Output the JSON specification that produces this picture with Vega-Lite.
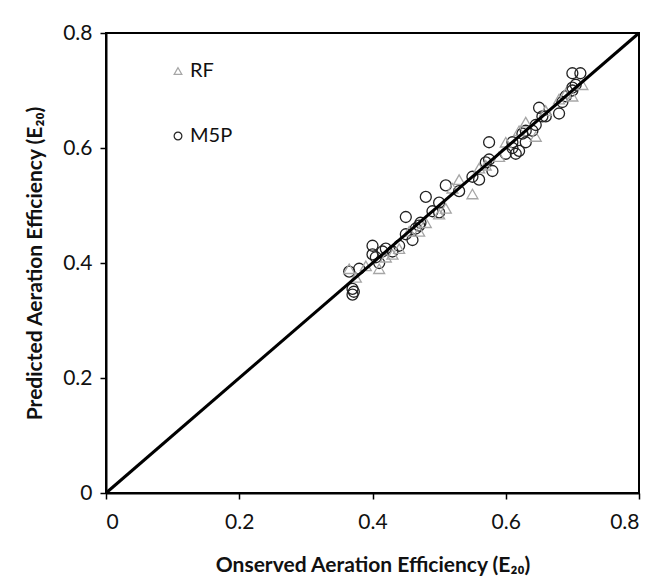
{
  "$schema": "https://vega.github.io/schema/vega-lite/v6.json",
  "width": 533,
  "height": 460,
  "autosize": {"type": "none"},
  "padding": {"left": 106, "top": 33, "right": 24, "bottom": 89},
  "background": "white",
  "config": {
    "view": {"stroke": "black", "strokeWidth": 2},
    "font": "Lato",
    "axis": {
      "grid": false,
      "domainColor": "black",
      "domainWidth": 2,
      "tickColor": "black",
      "tickWidth": 1.5,
      "tickSize": 6,
      "labelFont": "Lato",
      "labelFontSize": 21,
      "labelColor": "#111",
      "titleFont": "Lato",
      "titleFontSize": 21,
      "titleFontWeight": "bold",
      "titleColor": "#111"
    }
  },
  "layer": [
    {
      "data": {
        "values": [
          {"obs": 0.365, "pred": 0.385, "model": "M5P"},
          {"obs": 0.37, "pred": 0.355, "model": "M5P"},
          {"obs": 0.37, "pred": 0.345, "model": "M5P"},
          {"obs": 0.372, "pred": 0.35, "model": "M5P"},
          {"obs": 0.38, "pred": 0.39, "model": "M5P"},
          {"obs": 0.40, "pred": 0.415, "model": "M5P"},
          {"obs": 0.40, "pred": 0.43, "model": "M5P"},
          {"obs": 0.405, "pred": 0.41, "model": "M5P"},
          {"obs": 0.41, "pred": 0.40, "model": "M5P"},
          {"obs": 0.415, "pred": 0.42, "model": "M5P"},
          {"obs": 0.42, "pred": 0.425, "model": "M5P"},
          {"obs": 0.43, "pred": 0.42, "model": "M5P"},
          {"obs": 0.44, "pred": 0.43, "model": "M5P"},
          {"obs": 0.45, "pred": 0.45, "model": "M5P"},
          {"obs": 0.45, "pred": 0.48, "model": "M5P"},
          {"obs": 0.46, "pred": 0.44, "model": "M5P"},
          {"obs": 0.465, "pred": 0.46, "model": "M5P"},
          {"obs": 0.47, "pred": 0.465, "model": "M5P"},
          {"obs": 0.472, "pred": 0.47, "model": "M5P"},
          {"obs": 0.48, "pred": 0.515, "model": "M5P"},
          {"obs": 0.49, "pred": 0.49, "model": "M5P"},
          {"obs": 0.50, "pred": 0.488, "model": "M5P"},
          {"obs": 0.50, "pred": 0.505, "model": "M5P"},
          {"obs": 0.51, "pred": 0.535, "model": "M5P"},
          {"obs": 0.53, "pred": 0.525, "model": "M5P"},
          {"obs": 0.55, "pred": 0.55, "model": "M5P"},
          {"obs": 0.56, "pred": 0.545, "model": "M5P"},
          {"obs": 0.57, "pred": 0.575, "model": "M5P"},
          {"obs": 0.575, "pred": 0.58, "model": "M5P"},
          {"obs": 0.575, "pred": 0.61, "model": "M5P"},
          {"obs": 0.58, "pred": 0.56, "model": "M5P"},
          {"obs": 0.60, "pred": 0.59, "model": "M5P"},
          {"obs": 0.61, "pred": 0.61, "model": "M5P"},
          {"obs": 0.61, "pred": 0.60, "model": "M5P"},
          {"obs": 0.615, "pred": 0.59, "model": "M5P"},
          {"obs": 0.62, "pred": 0.595, "model": "M5P"},
          {"obs": 0.625, "pred": 0.625, "model": "M5P"},
          {"obs": 0.63, "pred": 0.63, "model": "M5P"},
          {"obs": 0.63, "pred": 0.61, "model": "M5P"},
          {"obs": 0.64, "pred": 0.63, "model": "M5P"},
          {"obs": 0.645, "pred": 0.64, "model": "M5P"},
          {"obs": 0.65, "pred": 0.67, "model": "M5P"},
          {"obs": 0.655, "pred": 0.655, "model": "M5P"},
          {"obs": 0.66, "pred": 0.655, "model": "M5P"},
          {"obs": 0.68, "pred": 0.66, "model": "M5P"},
          {"obs": 0.685, "pred": 0.68, "model": "M5P"},
          {"obs": 0.69, "pred": 0.69, "model": "M5P"},
          {"obs": 0.70, "pred": 0.73, "model": "M5P"},
          {"obs": 0.70, "pred": 0.70, "model": "M5P"},
          {"obs": 0.705, "pred": 0.71, "model": "M5P"},
          {"obs": 0.712, "pred": 0.73, "model": "M5P"},
          {"obs": 0.70, "pred": 0.705, "model": "M5P"},
          {"obs": 0.365, "pred": 0.39, "model": "RF"},
          {"obs": 0.375, "pred": 0.375, "model": "RF"},
          {"obs": 0.39, "pred": 0.395, "model": "RF"},
          {"obs": 0.41, "pred": 0.39, "model": "RF"},
          {"obs": 0.42, "pred": 0.41, "model": "RF"},
          {"obs": 0.43, "pred": 0.415, "model": "RF"},
          {"obs": 0.44, "pred": 0.425, "model": "RF"},
          {"obs": 0.455, "pred": 0.455, "model": "RF"},
          {"obs": 0.47, "pred": 0.455, "model": "RF"},
          {"obs": 0.48, "pred": 0.47, "model": "RF"},
          {"obs": 0.50, "pred": 0.485, "model": "RF"},
          {"obs": 0.51, "pred": 0.495, "model": "RF"},
          {"obs": 0.52, "pred": 0.53, "model": "RF"},
          {"obs": 0.53, "pred": 0.545, "model": "RF"},
          {"obs": 0.55, "pred": 0.52, "model": "RF"},
          {"obs": 0.56, "pred": 0.565, "model": "RF"},
          {"obs": 0.57, "pred": 0.57, "model": "RF"},
          {"obs": 0.59, "pred": 0.585, "model": "RF"},
          {"obs": 0.60, "pred": 0.61, "model": "RF"},
          {"obs": 0.62, "pred": 0.63, "model": "RF"},
          {"obs": 0.63, "pred": 0.645, "model": "RF"},
          {"obs": 0.645, "pred": 0.62, "model": "RF"},
          {"obs": 0.66, "pred": 0.665, "model": "RF"},
          {"obs": 0.68, "pred": 0.685, "model": "RF"},
          {"obs": 0.69, "pred": 0.695, "model": "RF"},
          {"obs": 0.70, "pred": 0.69, "model": "RF"},
          {"obs": 0.715, "pred": 0.71, "model": "RF"}
        ]
      },
      "mark": {"type": "point", "filled": false, "strokeWidth": 1.3, "size": 120, "opacity": 1},
      "encoding": {
        "x": {
          "field": "obs", "type": "quantitative",
          "scale": {"domain": [0, 0.8], "nice": false, "zero": false},
          "axis": {"values": [0, 0.2, 0.4, 0.6, 0.8], "format": "~g", "labelPadding": 12, "titlePadding": 22, "title": "Onserved Aeration Efficiency (E₂₀)"}
        },
        "y": {
          "field": "pred", "type": "quantitative",
          "scale": {"domain": [0, 0.8], "nice": false, "zero": false},
          "axis": {"values": [0, 0.2, 0.4, 0.6, 0.8], "format": "~g", "labelPadding": 8, "titlePadding": 17, "title": "Predicted Aeration Efficiency (E₂₀)"}
        },
        "shape": {
          "field": "model", "type": "nominal",
          "scale": {"domain": ["RF", "M5P"], "range": ["triangle-up", "circle"]},
          "legend": {
            "title": null, "orient": "none", "legendX": 62, "legendY": 28,
            "labelFont": "Lato", "labelFontSize": 20, "labelColor": "#111",
            "symbolSize": 60, "rowPadding": 45, "labelOffset": 2, "symbolStrokeWidth": 1.2
          }
        },
        "stroke": {
          "field": "model", "type": "nominal",
          "scale": {"domain": ["RF", "M5P"], "range": ["#a6a6a6", "#222222"]},
          "legend": null
        }
      }
    },
    {
      "data": {"values": [{"obs": 0, "pred": 0}, {"obs": 0.8, "pred": 0.8}]},
      "mark": {"type": "line", "color": "black", "strokeWidth": 3},
      "encoding": {
        "x": {"field": "obs", "type": "quantitative"},
        "y": {"field": "pred", "type": "quantitative"}
      }
    }
  ]
}
